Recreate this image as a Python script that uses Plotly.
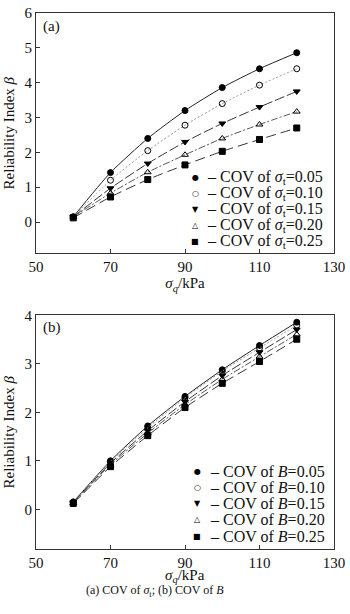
import plotly.graph_objects as go
from plotly.subplots import make_subplots

x_vals = [60, 70, 80, 90, 100, 110, 120]

cov_labels = ["0.05", "0.10", "0.15", "0.20", "0.25"]

beta_a_005 = [0.15, 1.42, 2.40, 3.20, 3.86, 4.40, 4.86]
beta_a_010 = [0.15, 1.20, 2.05, 2.78, 3.40, 3.93, 4.40]
beta_a_015 = [0.15, 0.97, 1.68, 2.30, 2.83, 3.30, 3.75]
beta_a_020 = [0.15, 0.83, 1.43, 1.93, 2.40, 2.80, 3.17]
beta_a_025 = [0.12, 0.72, 1.22, 1.64, 2.03, 2.37, 2.70]

beta_b_005 = [0.15, 1.00, 1.72, 2.33, 2.88, 3.38, 3.86]
beta_b_010 = [0.15, 0.98, 1.68, 2.30, 2.85, 3.33, 3.80]
beta_b_015 = [0.14, 0.95, 1.62, 2.22, 2.76, 3.24, 3.71]
beta_b_020 = [0.13, 0.92, 1.57, 2.16, 2.68, 3.15, 3.61]
beta_b_025 = [0.12, 0.88, 1.52, 2.10, 2.60, 3.05, 3.51]

x_ticks = [50, 70, 90, 110, 130]
y_ticks_a = [0, 1, 2, 3, 4, 5, 6]
y_ticks_b = [0, 1, 2, 3, 4]

series_a = [beta_a_005, beta_a_010, beta_a_015, beta_a_020, beta_a_025]
series_b = [beta_b_005, beta_b_010, beta_b_015, beta_b_020, beta_b_025]

symbols = ["circle", "circle-open", "triangle-down", "triangle-up-open", "square"]
legend_glyphs = ["●", "○", "▼", "△", "■"]
dashes = ["solid", "2px,2px", "10px,3px", "7px,2px,2px,2px", "10px,5px"]
line_colors = ["#222", "#999", "#333", "#555", "#333"]

FONT = "Liberation Serif, Times New Roman, serif"
GLYPH_FONT = "DejaVu Sans"

H = 614
W = 350
left_px, right_px = 36, 339
top_px, bot_px = 5, 549
plot_w = right_px - left_px
plot_h = bot_px - top_px
a_bottom = (bot_px - 249) / plot_h
b_top = (bot_px - 312) / plot_h


def px_x(px):
    return (px - left_px) / plot_w


def px_y(py):
    return (bot_px - py) / plot_h


fig = make_subplots(rows=2, cols=1)

for row, data in ((1, series_a), (2, series_b)):
    for i, ys in enumerate(data):
        fig.add_trace(go.Scatter(
            x=x_vals, y=ys, mode="lines+markers",
            line=dict(color=line_colors[i], width=1, dash=dashes[i], shape="spline", smoothing=0.6),
            marker=dict(symbol=symbols[i], size=6, color="black",
                        line=dict(color="black", width=1)),
            showlegend=False), row=row, col=1)

axis_common = dict(showline=True, linecolor="#333", linewidth=1, mirror=True,
                   ticks="inside", ticklen=4, tickcolor="#333", showgrid=False,
                   zeroline=False, ticklabeloverflow="allow",
                   tickfont=dict(family=FONT, size=15, color="#111"))

fig.update_xaxes(range=[50, 130], tickvals=x_ticks, **axis_common)
fig.update_xaxes(domain=[0, 1])
fig.update_yaxes(**axis_common)
title_font = dict(family=FONT, size=15, color="#111")
x_title = "<i>σ<sub>q</sub></i>/kPa"
fig.update_layout(
    xaxis=dict(title=dict(text=x_title, font=title_font, standoff=1)),
    yaxis=dict(domain=[a_bottom, 1], range=[-0.9, 6], tickvals=y_ticks_a,
               title=dict(text="Reliability Index <i>β</i>", font=title_font, standoff=6)),
    yaxis2=dict(domain=[0, b_top], range=[-0.82, 4], tickvals=y_ticks_b,
                title=dict(text="Reliability Index <i>β</i>", font=title_font, standoff=6)),
)

annotations = [
    dict(text="(a)", xref="paper", yref="paper", x=px_x(41), y=px_y(8), xanchor="left", yanchor="top",
         showarrow=False, font=dict(family=FONT, size=15, color="#111")),
    dict(text="(b)", xref="paper", yref="paper", x=px_x(41), y=px_y(314), xanchor="left", yanchor="top",
         showarrow=False, font=dict(family=FONT, size=15, color="#111")),
    dict(text=x_title, xref="paper", yref="paper", x=0.5, y=px_y(576),
         xanchor="center", yanchor="middle", showarrow=False, font=title_font),
    dict(text="(a) COV of <i>σ</i><sub>t</sub>; (b) COV of <i>B</i>", xref="paper", yref="paper",
         x=px_x(157), y=px_y(592), xanchor="center", yanchor="middle",
         showarrow=False, font=dict(family=FONT, size=12, color="#111")),
]

legend_specs = [
    ("<i>σ</i><sub>t</sub>", 198, 208, 172.0, 16.2),
    ("<i>B</i>", 200, 211, 470.0, 16.5),
]
for var_html, mx, tx, y0, dy in legend_specs:
    for i, lab in enumerate(cov_labels):
        yy = px_y(y0 + i * dy)
        annotations.append(dict(
            text=legend_glyphs[i], xref="paper", yref="paper", x=px_x(mx), y=yy,
            xanchor="center", yanchor="middle", showarrow=False,
            font=dict(family=GLYPH_FONT, size=8, color="#000")))
        annotations.append(dict(
            text="– COV of " + var_html + "=" + lab, xref="paper", yref="paper",
            x=px_x(tx), y=yy, xanchor="left", yanchor="middle", showarrow=False,
            font=dict(family=FONT, size=16, color="#111")))

fig.update_layout(
    width=W, height=H,
    margin=dict(l=left_px, r=W - right_px, t=top_px, b=H - bot_px),
    paper_bgcolor="white", plot_bgcolor="white",
    showlegend=False,
    annotations=annotations,
)

fig.write_html("out.html")
